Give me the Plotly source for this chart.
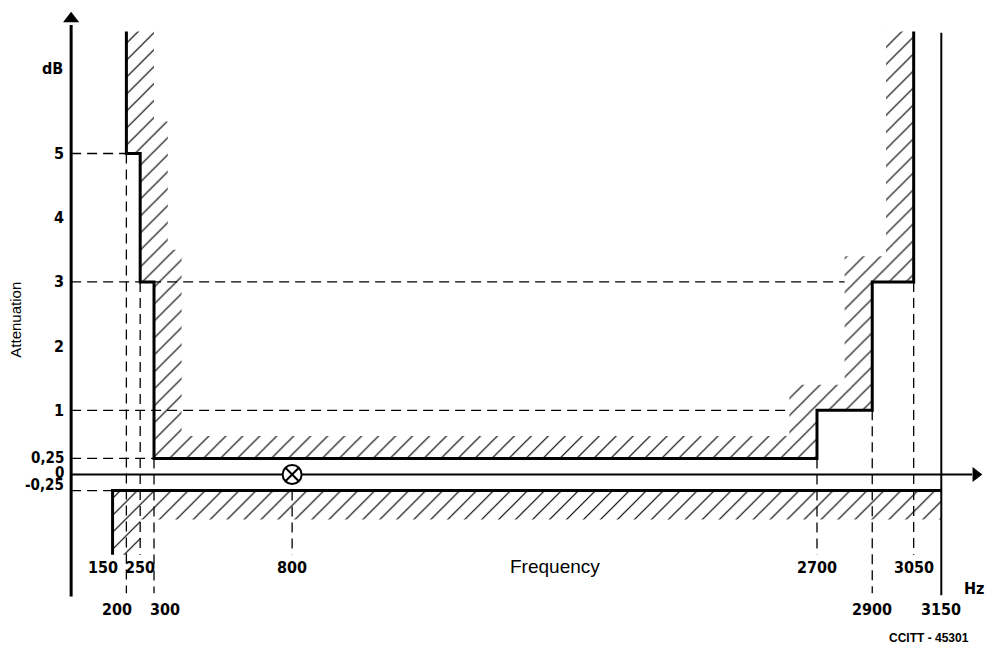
import plotly.graph_objects as go

# ---------------- data (Hz, dB) ----------------
mask_upper_hz = [200, 200, 250, 250, 300, 300, 2700, 2700, 2900, 2900, 3050, 3050]
mask_upper_db = [6.9, 5, 5, 3, 3, 0.25, 0.25, 1, 1, 3, 3, 6.9]
hatch_upper_hz = [300, 300, 350, 350, 400, 400, 2600, 2600, 2800, 2800, 2950, 2950]
hatch_upper_db = [6.9, 5.5, 5.5, 3.5, 3.5, 0.6, 0.6, 1.4, 1.4, 3.4, 3.4, 6.9]

mask_lower_hz = [150, 150, 3150]
mask_lower_db = [-1.25, -0.25, -0.25]
hatch_lower_hz = [150, 3150, 3150, 250, 250, 150]
hatch_lower_db = [-0.25, -0.25, -0.7, -0.7, -1.25, -1.25]

limit_line_hz = 3150
limit_line_db = [6.88, -1.88]

# horizontal dashed guides: (level dB, end frequency)
guide_h_db = [5, 3, 1, 0.25, -0.25]
guide_h_end = [200, 2800, 2600, 300, 150]
# vertical dashed guides: (frequency, top dB, bottom dB)
guide_v_hz = [200, 250, 300, 800, 2700, 2900, 3050]
guide_v_top = [5, 3, 0.25, 0, 0.25, 1, 3]
guide_v_bot = [-1.85, -1.25, -1.85, -1.25, -1.25, -1.85, -1.25]

ref_point_hz = 800
ref_point_db = 0

y_tick_vals = [5, 4, 3, 2, 1, 0.25, 0, -0.25]
y_tick_text = ["5", "4", "3", "2", "1", "0,25", "0", "-0,25"]
x_row1_vals = [150, 250, 800, 2700, 3050]
x_row2_vals = [200, 300, 2900, 3150]

axis_y_span = [-1.9, 7.0]
axis_x_end = 3262

# ---------------- figure ----------------
fig = go.Figure()
BLACK = "black"
HATCH = dict(shape="/", size=12, solidity=0.1, fgcolor=BLACK, fgopacity=1,
             bgcolor="rgba(0,0,0,0)")

fig.add_trace(go.Scatter(x=hatch_upper_hz + mask_upper_hz[::-1],
                         y=hatch_upper_db + mask_upper_db[::-1],
                         fill="toself", mode="lines", line=dict(width=0),
                         fillcolor="rgba(0,0,0,0)", fillpattern=HATCH))
fig.add_trace(go.Scatter(x=hatch_lower_hz, y=hatch_lower_db,
                         fill="toself", mode="lines", line=dict(width=0),
                         fillcolor="rgba(0,0,0,0)", fillpattern=HATCH))

# dashed guides
gx, gy = [], []
for lvl, end in zip(guide_h_db, guide_h_end):
    gx += [0, end, None]
    gy += [lvl, lvl, None]
for f, t, b in zip(guide_v_hz, guide_v_top, guide_v_bot):
    gx += [f, f, None]
    gy += [t, b, None]
fig.add_trace(go.Scatter(x=gx, y=gy, mode="lines",
                         line=dict(color=BLACK, width=1.3, dash="10px,6px")))

# axes
fig.add_trace(go.Scatter(x=[0, 0], y=axis_y_span, mode="lines",
                         line=dict(color=BLACK, width=3)))
fig.add_trace(go.Scatter(x=[0, axis_x_end], y=[0, 0], mode="lines",
                         line=dict(color=BLACK, width=1.8)))
fig.add_trace(go.Scatter(x=[0], y=[7.1], mode="markers",
                         marker=dict(symbol="triangle-up", size=14, color=BLACK)))
fig.add_trace(go.Scatter(x=[3275], y=[0], mode="markers",
                         marker=dict(symbol="triangle-right", size=13, color=BLACK)))

# limit line 3150
fig.add_trace(go.Scatter(x=[limit_line_hz, limit_line_hz], y=limit_line_db, mode="lines",
                         line=dict(color=BLACK, width=2)))

# masks
fig.add_trace(go.Scatter(x=mask_upper_hz, y=mask_upper_db, mode="lines",
                         line=dict(color=BLACK, width=3)))
fig.add_trace(go.Scatter(x=mask_lower_hz, y=mask_lower_db, mode="lines",
                         line=dict(color=BLACK, width=3)))

# reference point
fig.add_trace(go.Scatter(x=[ref_point_hz], y=[ref_point_db], mode="markers",
                         marker=dict(symbol="circle-x", size=19, color="white",
                                     line=dict(color=BLACK, width=2))))

TICKFONT = dict(family="Liberation Sans Narrow, DejaVu Sans Condensed, Liberation Sans",
                size=16, color=BLACK, weight="bold")
SMALLTICK = dict(TICKFONT, size=15)
ann = []
y_label_shift = {0: 2, -0.25: 6}
for v, t in zip(y_tick_vals, y_tick_text):
    ann.append(dict(x=0, y=v, text=t, xanchor="right", yanchor="middle",
                    xshift=-6, yshift=y_label_shift.get(v, 0), showarrow=False,
                    borderpad=0,
                    font=SMALLTICK if abs(v) < 0.5 else TICKFONT))
row1_shift = {150: -10}
row2_shift = {200: -9, 300: 11}
for v in x_row1_vals:
    ann.append(dict(x=v, y=-1.456, text=str(v), xanchor="center", yanchor="middle",
                    xshift=row1_shift.get(v, 0), showarrow=False, font=TICKFONT))
for v in x_row2_vals:
    ann.append(dict(x=v, y=-2.11, text=str(v), xanchor="center", yanchor="middle",
                    xshift=row2_shift.get(v, 0), showarrow=False, font=TICKFONT))
ann.append(dict(x=-69, y=6.33, text="dB", showarrow=False, font=TICKFONT))
ann.append(dict(x=3270, y=-1.77, text="Hz", showarrow=False, font=TICKFONT))
ann.append(dict(x=1752, y=-1.43, text="Frequency", showarrow=False,
                font=dict(family="Liberation Sans", size=19, color=BLACK)))
ann.append(dict(x=-200, y=2.41, text="Attenuation", textangle=-90, showarrow=False,
                font=dict(family="Liberation Sans", size=15, color=BLACK)))
ann.append(dict(x=3105, y=-2.55, text="CCITT - 45301", showarrow=False,
                font=dict(family="Liberation Sans", size=12, color=BLACK, weight="bold")))

fig.update_layout(
    width=991, height=646,
    margin=dict(l=0, r=0, t=0, b=0),
    paper_bgcolor="white", plot_bgcolor="white",
    showlegend=False, hovermode=False,
    xaxis=dict(visible=False, range=[-257.5, 3329.9], fixedrange=True),
    yaxis=dict(visible=False, range=[-2.671, 7.391], fixedrange=True),
    annotations=ann,
)

fig.write_html("out.html",
               config={"displayModeBar": False, "staticPlot": True},
               post_script="document.body.style.margin='0px';"
                           "document.body.style.overflow='hidden';")
